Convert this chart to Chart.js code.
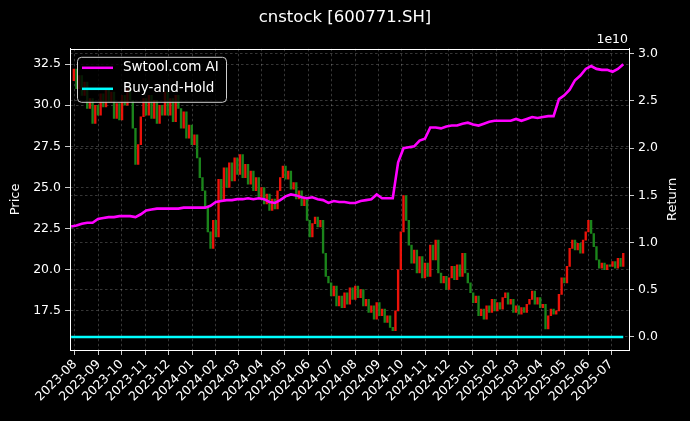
<!DOCTYPE html>
<html>
<head>
<meta charset="UTF-8">
<title>cnstock [600771.SH]</title>
<script src="https://cdn.jsdelivr.net/npm/chart.js@4.4.1/dist/chart.umd.min.js"></script>
<style>
	html, body { margin: 0; padding: 0; background: #000; }
	canvas { display: block; }
</style>
</head>
<body>
	<canvas id="myChart" width="690" height="421"></canvas>

	<script>
		// days are counted from 2023-08-01 (day 0)
		const priceStartDay = -5;   // 2023-07-27
		const priceStepDays = 3.5;  // one candle every half week
		const closes = [
			31.5, 32.2, 31.0, 31.8, 30.6, 31.4, 29.8, 30.4, 28.9, 30.0,
			29.4, 30.7, 29.9, 31.0, 30.2, 30.8, 29.2, 30.1, 29.1, 30.6,
			30.0, 31.0, 30.3, 28.6, 26.4, 27.6, 29.3, 30.4, 29.4, 30.6,
			29.2, 30.3, 28.9, 30.0, 29.4, 30.8, 29.4, 30.4, 29.0, 30.6,
			29.8, 28.6, 29.6, 28.0, 28.8, 27.6, 28.2, 26.8, 25.6, 24.8,
			23.8, 22.3, 21.3, 23.0, 22.0, 25.5, 24.2, 26.2, 25.0, 26.5,
			25.4, 26.8, 25.8, 27.0, 25.6, 26.4, 25.2, 26.0, 24.8, 25.6,
			24.4, 25.0, 24.0, 24.6, 23.6, 24.3, 23.7, 24.8, 25.6, 26.3,
			25.5, 26.0, 24.9, 25.3, 24.3, 24.8, 23.9, 24.4, 23.0, 22.0,
			22.8, 23.2, 22.6, 23.0, 21.0, 19.6, 19.2, 18.4, 19.0, 17.8,
			18.4, 17.7, 18.6, 17.9, 18.9, 18.2, 19.0, 18.3, 18.8, 17.8,
			18.2, 17.4, 17.8, 17.0, 18.0, 17.2, 17.6, 16.8, 17.2, 16.5,
			16.3, 17.5, 20.0, 22.3, 24.5, 23.0, 21.5, 20.4, 21.2, 19.8,
			20.8, 19.5, 20.4, 19.6, 21.5, 20.6, 21.8, 19.8, 19.2, 19.6,
			18.8, 19.5, 20.2, 19.4, 20.3, 19.6, 21.0, 19.8, 19.2, 18.6,
			18.0, 18.4, 17.2, 17.6, 17.0, 17.8, 17.4, 18.2, 17.5, 18.0,
			17.6, 18.3, 18.6, 17.9, 18.2, 17.4, 17.8, 17.3, 17.7, 17.4,
			17.9, 18.2, 18.7, 17.9, 18.3, 17.7, 17.9, 16.4, 17.2, 17.6,
			17.3, 17.5, 18.5, 19.5, 19.2, 20.2, 21.3, 21.8, 21.2, 21.6,
			21.0, 21.8, 22.3, 23.0, 22.2, 21.4, 20.6, 20.1, 20.4, 20.0,
			20.3, 20.2, 20.5, 20.1, 20.7, 20.2, 21.0
		];

		// strategy returns, in units of 1e10, one value per week
		const returnStartDay = -5;
		const returnStepDays = 7;
		const aiReturn = [
			1.17, 1.18, 1.20, 1.21, 1.21, 1.25, 1.26, 1.27, 1.27, 1.28,
			1.28, 1.28, 1.27, 1.30, 1.34, 1.35, 1.36, 1.36, 1.36, 1.36,
			1.36, 1.37, 1.37, 1.37, 1.37, 1.37, 1.39, 1.43, 1.44, 1.45,
			1.45, 1.46, 1.46, 1.47, 1.46, 1.47, 1.46, 1.43, 1.42, 1.45,
			1.49, 1.51, 1.50, 1.48, 1.47, 1.48, 1.46, 1.45, 1.42, 1.44,
			1.43, 1.43, 1.42, 1.42, 1.44, 1.45, 1.46, 1.51, 1.47, 1.47,
			1.47, 1.85, 2.00, 2.01, 2.02, 2.08, 2.10, 2.22, 2.22, 2.21,
			2.23, 2.24, 2.24, 2.26, 2.27, 2.25, 2.24, 2.26, 2.28, 2.29,
			2.29, 2.29, 2.29, 2.31, 2.29, 2.31, 2.33, 2.32, 2.33, 2.34,
			2.34, 2.52, 2.56, 2.62, 2.72, 2.77, 2.84, 2.87, 2.84, 2.83,
			2.83, 2.81, 2.84, 2.89
		];
		const holdReturn = [
			0, 0, 0, 0, 0, 0, 0, 0, 0, 0,
			0, 0, 0, 0, 0, 0, 0, 0, 0, 0,
			0, 0, 0, 0, 0, 0, 0, 0, 0, 0,
			0, 0, 0, 0, 0, 0, 0, 0, 0, 0,
			0, 0, 0, 0, 0, 0, 0, 0, 0, 0,
			0, 0, 0, 0, 0, 0, 0, 0, 0, 0,
			0, 0, 0, 0, 0, 0, 0, 0, 0, 0,
			0, 0, 0, 0, 0, 0, 0, 0, 0, 0,
			0, 0, 0, 0, 0, 0, 0, 0, 0, 0,
			0, 0, 0, 0, 0, 0, 0, 0, 0, 0,
			0, 0, 0, 0
		];

		const monthTicks = [
			'2023-08', '2023-09', '2023-10', '2023-11', '2023-12',
			'2024-01', '2024-02', '2024-03', '2024-04', '2024-05', '2024-06',
			'2024-07', '2024-08', '2024-09', '2024-10', '2024-11', '2024-12',
			'2025-01', '2025-02', '2025-03', '2025-04', '2025-05', '2025-06', '2025-07'
		];
		const priceTicks = [17.5, 20.0, 22.5, 25.0, 27.5, 30.0, 32.5];
		const returnTicks = [0.0, 0.5, 1.0, 1.5, 2.0, 2.5, 3.0];

		// month label -> day number
		function dayOf(m) {
			const p = m.split('-');
			return (Date.UTC(+p[0], +p[1] - 1, 1) - Date.UTC(2023, 7, 1)) / 86400000;
		}

		// candle bodies: previous close -> close
		let candles = [];
		let candleColors = [];
		for (let i = 1; i < closes.length; i++) {
			candles.push({ x: priceStartDay + i * priceStepDays, y: [closes[i - 1], closes[i]] });
			candleColors.push(closes[i] >= closes[i - 1] ? 'rgba(255,20,10,0.92)' : 'rgba(28,140,28,0.95)');
		}
		const aiPoints = aiReturn.map((v, i) => ({ x: returnStartDay + i * returnStepDays, y: v }));
		const holdPoints = holdReturn.map((v, i) => ({ x: returnStartDay + i * returnStepDays, y: v }));

		const gridColor = 'rgba(255,255,255,0.27)';
		const FONT = 'DejaVu Sans';
		Chart.defaults.font.family = FONT;
		Chart.defaults.color = '#fff';

		const decor = {
			id: 'decor',
			beforeDraw(chart) {
				const ctx = chart.ctx;
				ctx.save();
				ctx.fillStyle = '#000';
				ctx.fillRect(0, 0, chart.width, chart.height);
				ctx.restore();
			},
			afterDraw(chart) {
				const ctx = chart.ctx;
				const a = chart.chartArea;
				ctx.save();
				// axes frame
				ctx.strokeStyle = '#fff';
				ctx.lineWidth = 1;
				ctx.strokeRect(Math.round(a.left) + 0.5, Math.round(a.top) + 0.5,
					Math.round(a.right - a.left), Math.round(a.bottom - a.top));

				// legend box inside the plot
				const lx = a.left + 7, ly = a.top + 8, lw = 149, lh = 45;
				ctx.beginPath();
				ctx.roundRect(lx + 0.5, ly + 0.5, lw, lh, 4);
				ctx.fillStyle = 'rgba(0,0,0,0.8)';
				ctx.fill();
				ctx.strokeStyle = '#cfcfcf';
				ctx.stroke();
				const items = chart.data.datasets.filter(d => d.type === 'line');
				items.forEach((d, k) => {
					const yy = ly + 11 + k * 21;
					ctx.strokeStyle = d.borderColor;
					ctx.lineWidth = 2.5;
					ctx.beginPath();
					ctx.moveTo(lx + 5, yy);
					ctx.lineTo(lx + 36, yy);
					ctx.stroke();
					ctx.fillStyle = '#fff';
					ctx.font = '13.5px "' + FONT + '"';
					ctx.textAlign = 'left';
					ctx.textBaseline = 'middle';
					ctx.fillText(d.label, lx + 46, yy);
				});

				// offset label of the right axis
				ctx.fillStyle = '#fff';
				ctx.font = '12.5px "' + FONT + '"';
				ctx.textAlign = 'right';
				ctx.textBaseline = 'bottom';
				ctx.fillText('1e10', a.right - 1, a.top - 3);

				// right axis title, reading upward
				ctx.font = '13px "' + FONT + '"';
				ctx.translate(672.5, (a.top + a.bottom) / 2);
				ctx.rotate(-Math.PI / 2);
				ctx.textAlign = 'center';
				ctx.textBaseline = 'middle';
				ctx.fillText('Return', 0, 0);
				ctx.restore();
			}
		};

		new Chart('myChart', {
			type: 'bar',
			data: {
				datasets: [{
					type: 'line',
					label: 'Swtool.com AI',
					data: aiPoints,
					yAxisID: 'y1',
					borderColor: '#ff00ff',
					borderWidth: 2.6,
					pointRadius: 0,
					order: 1
				}, {
					type: 'line',
					label: 'Buy-and-Hold',
					data: holdPoints,
					yAxisID: 'y1',
					borderColor: '#00ffff',
					borderWidth: 2.6,
					pointRadius: 0,
					order: 2
				}, {
					type: 'bar',
					label: 'price',
					data: candles,
					yAxisID: 'y',
					backgroundColor: candleColors,
					borderWidth: 0,
					barThickness: 1.7,
					minBarLength: 1,
					grouped: false,
					order: 3
				}]
			},
			options: {
				responsive: false,
				animation: false,
				devicePixelRatio: 1,
				layout: { padding: 0 },
				plugins: {
					legend: { display: false },
					tooltip: { enabled: false },
					title: {
						display: true,
						text: 'cnstock [600771.SH]',
						color: '#fff',
						font: { size: 16.5, weight: 'normal' },
						padding: { top: 8, bottom: 21 }
					}
				},
				scales: {
					x: {
						type: 'linear',
						min: -6.5,
						max: 723.5,
						offset: false,
						grid: { offset: false, color: gridColor, lineWidth: 0.8, tickColor: '#fff', tickLength: 5 },
						border: { color: '#fff', dash: [2.5, 2.5] },
						ticks: {
							color: '#fff',
							font: { size: 12.5 },
							minRotation: 45,
							maxRotation: 45,
							autoSkip: false,
							padding: 2,
							callback: (v, i) => monthTicks[i]
						},
						afterBuildTicks: s => { s.ticks = monthTicks.map(m => ({ value: dayOf(m) })); },
						afterFit: s => { s.height = 71; }
					},
					y: {
						position: 'left',
						min: 15.12,
						max: 33.43,
						grid: { color: gridColor, lineWidth: 0.8, tickColor: '#fff', tickLength: 5 },
						border: { color: '#fff', dash: [2.5, 2.5] },
						ticks: { color: '#fff', font: { size: 12.5 }, padding: 4, callback: v => v.toFixed(1) },
						title: { display: true, text: 'Price', color: '#fff', font: { size: 13 }, padding: { top: 8, bottom: 0 } },
						afterBuildTicks: s => { s.ticks = priceTicks.map(v => ({ value: v })); },
						afterFit: s => { s.width = 70; }
					},
					y1: {
						position: 'right',
						min: -0.138,
						max: 3.053,
						grid: { color: gridColor, lineWidth: 0.8, tickColor: '#fff', tickLength: 5 },
						border: { color: '#fff', dash: [2.5, 2.5] },
						ticks: { color: '#fff', font: { size: 12.5 }, padding: 4, callback: v => v.toFixed(1) },
						afterBuildTicks: s => { s.ticks = returnTicks.map(v => ({ value: v })); },
						afterFit: s => { s.width = 61; }
					}
				}
			},
			plugins: [decor]
		});
	</script>
</body>
</html>
